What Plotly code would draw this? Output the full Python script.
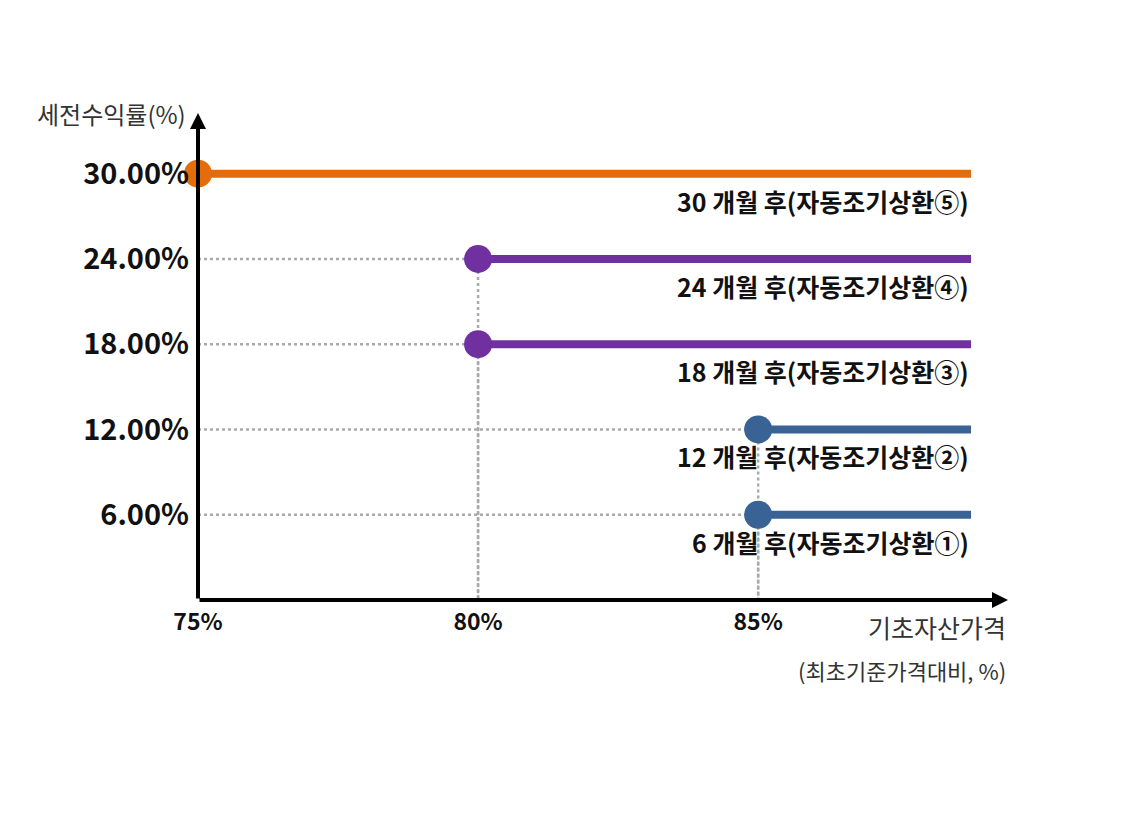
import plotly.graph_objects as go

FONT = "Noto Sans CJK KR"

prices = [75, 80, 80, 85, 85]          # barrier (% of initial price)
returns = [30, 24, 18, 12, 6]          # pre-tax return (%)
labels = ["30 개월 후(자동조기상환⑤)", "24 개월 후(자동조기상환④)",
          "18 개월 후(자동조기상환③)", "12 개월 후(자동조기상환②)",
          "6 개월 후(자동조기상환①)"]
colors = ["#E46C0A", "#7030A0", "#7030A0", "#386394", "#386394"]
x_ticks = [75, 80, 85]
x_ticktext = ["75%", "80%", "85%"]
y_ticks = [6, 12, 18, 24, 30]
y_ticktext = ["6.00%", "12.00%", "18.00%", "24.00%", "30.00%"]

X_END = 88.8
X_MAX = 89.46
Y_MAX = 34.27

fig = go.Figure()

# dotted guides
for p, r in zip(prices, returns):
    if p > 75:
        fig.add_trace(go.Scatter(x=[75, p], y=[r, r], mode="lines",
                                 line=dict(color="#AAAAAA", width=2.5, dash="dot"),
                                 hoverinfo="skip", showlegend=False))
        fig.add_trace(go.Scatter(x=[p, p], y=[r, 0], mode="lines",
                                 line=dict(color="#AAAAAA", width=2.5, dash="dot"),
                                 hoverinfo="skip", showlegend=False))

for p, r, lab, c in zip(prices, returns, labels, colors):
    fig.add_trace(go.Scatter(x=[p, X_END], y=[r, r], mode="lines",
                             line=dict(color=c, width=8), showlegend=False))
    fig.add_trace(go.Scatter(x=[p], y=[r], mode="markers", cliponaxis=False,
                             marker=dict(color=c, size=28), showlegend=False))
    fig.add_annotation(x=X_END, y=r, text=f"<b>{lab}</b>", showarrow=False,
                       xanchor="right", yanchor="middle", yshift=-27,
                       font=dict(size=25, color="#111111", family=FONT))

# axes with arrows
fig.add_annotation(x=X_MAX, y=0, ax=75, ay=0, xref="x", yref="y", axref="x", ayref="y",
                   showarrow=True, arrowhead=2, arrowsize=0.8, arrowwidth=4,
                   arrowcolor="black", text="")
fig.add_annotation(x=75, y=Y_MAX, ax=75, ay=0, xref="x", yref="y", axref="x", ayref="y",
                   showarrow=True, arrowhead=2, arrowsize=0.8, arrowwidth=4,
                   arrowcolor="black", text="")

fig.add_annotation(x=75, y=Y_MAX, xref="x", yref="y", text="세전수익률(%)",
                   showarrow=False, xanchor="right", yanchor="middle", xshift=-10,
                   font=dict(size=24, color="#333333", family=FONT))
fig.add_annotation(x=X_MAX, y=0, xref="x", yref="y", text="기초자산가격",
                   showarrow=False, xanchor="right", yanchor="middle", yshift=-27,
                   font=dict(size=25, color="#333333", family=FONT))
fig.add_annotation(x=X_MAX, y=0, xref="x", yref="y", text="(최초기준가격대비, %)",
                   showarrow=False, xanchor="right", yanchor="middle", yshift=-70,
                   font=dict(size=22, color="#333333", family=FONT))

fig.update_layout(
    width=1134, height=817,
    margin=dict(l=190, r=134, t=105, b=225, autoexpand=False),
    plot_bgcolor="white", paper_bgcolor="white",
    font=dict(family=FONT),
    xaxis=dict(range=[75, X_MAX], tickvals=x_ticks, ticktext=[f"<b>{t}</b>" for t in x_ticktext],
               showgrid=False, zeroline=False, showline=False, ticks="", automargin=False,
               tickfont=dict(size=23, color="#111111"), ticklabelstandoff=6),
    yaxis=dict(range=[0, Y_MAX], tickvals=y_ticks, ticktext=[f"<b>{t}</b>" for t in y_ticktext],
               showgrid=False, zeroline=False, showline=False, ticks="", automargin=False,
               tickfont=dict(size=29, color="#111111"), ticklabelstandoff=8),
)

fig.write_html("out.html")
